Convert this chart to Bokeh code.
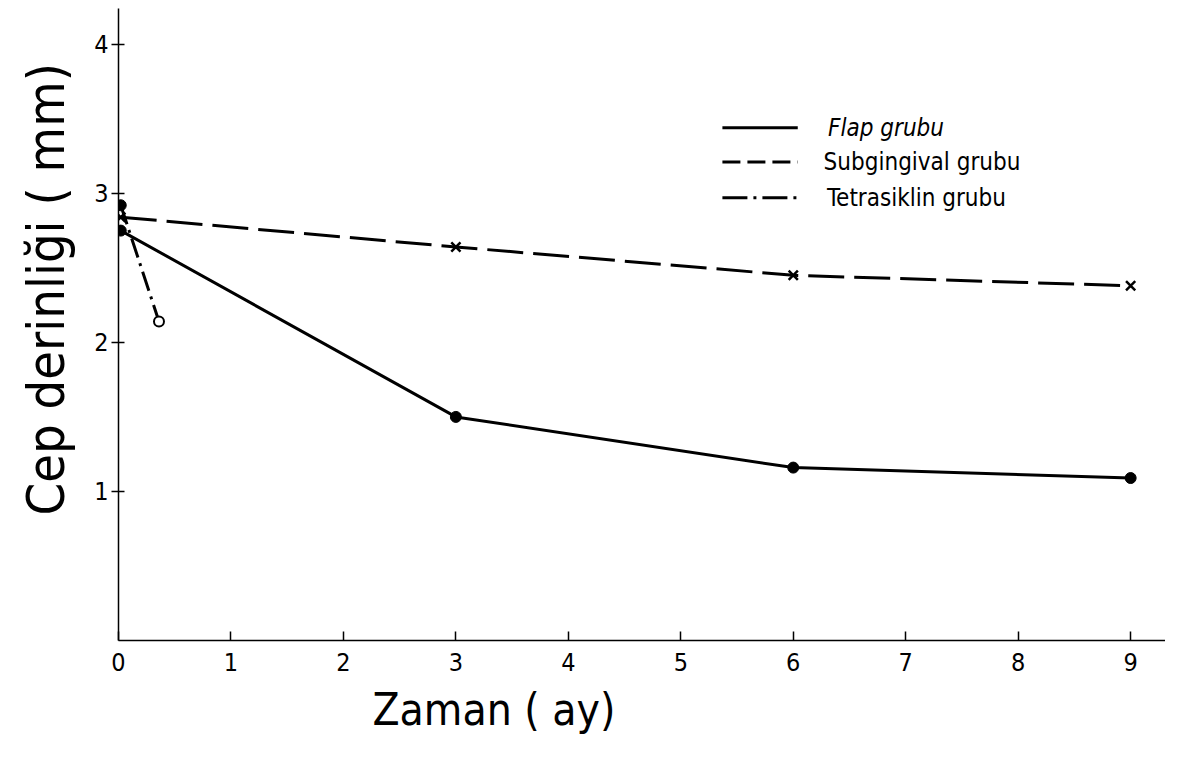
from bokeh.plotting import figure
from bokeh.models import Range1d, FixedTicker, Title
from bokeh.core.properties import value
from bokeh.embed import file_html
from bokeh.resources import INLINE

# ---- data ----
months_flap = [0.02, 3, 6, 9]
flap = [2.75, 1.50, 1.16, 1.09]
months_sub = [0.02, 3, 6, 9]
sub = [2.84, 2.64, 2.45, 2.38]
months_tetra = [0.02, 0.36]
tetra = [2.92, 2.14]

x_ticks = [0, 1, 2, 3, 4, 5, 6, 7, 8, 9]
y_ticks = [1, 2, 3, 4]
legend_names = ["Flap grubu", "Subgingival grubu", "Tetrasiklin grubu"]
legend_y = [3.44, 3.21, 2.97]
x_title = "Zaman ( ay)"
y_title = "Cep derinliği ( mm)"

FONT = "DejaVu Sans Condensed"

p = figure(width=1165, height=742, output_backend="svg", toolbar_location=None,
           x_range=Range1d(0, 9.31), y_range=Range1d(0, 4.24),
           min_border_left=118, min_border_right=0, min_border_top=8, min_border_bottom=102)
p.outline_line_color = None
p.grid.visible = False
p.background_fill_color = "white"

for ax in (p.xaxis[0], p.yaxis[0]):
    ax.axis_line_color = "black"
    ax.axis_line_width = 1.5
    ax.major_tick_line_color = "black"
    ax.major_tick_line_width = 1.5
    ax.minor_tick_line_color = None
    ax.major_label_text_font = FONT
    ax.major_label_text_color = "black"

p.xaxis.ticker = FixedTicker(ticks=x_ticks)
p.xaxis.major_tick_in = 9
p.xaxis.major_tick_out = 0
p.xaxis.major_label_standoff = 12
p.xaxis.major_label_text_font_size = "25px"

p.yaxis.ticker = FixedTicker(ticks=y_ticks)
p.yaxis.major_tick_in = 6
p.yaxis.major_tick_out = 7
p.yaxis.major_label_standoff = 3
p.yaxis.major_label_text_font_size = "25px"

# axis titles placed as the reference has them
p.add_layout(Title(text=x_title, align="left", offset=254, standoff=16,
                   text_font=FONT, text_font_size="44px", text_font_style="normal",
                   text_color="black"), "below")
p.add_layout(Title(text=y_title, align="left", offset=125, standoff=28,
                   vertical_align="top",
                   text_font=FONT, text_font_size="52px", text_font_style="normal",
                   text_color="black"), "left")

# series
p.line(months_flap, flap, line_color="black", line_width=3)
p.scatter(months_flap, flap, marker="circle", size=11, fill_color="black", line_color="black")

p.line(months_sub, sub, line_color="black", line_width=3, line_dash="36 10")
p.scatter(months_sub, sub, marker="x", size=13, line_color="black", line_width=2.5)

p.line(months_tetra, tetra, line_color="black", line_width=3, line_dash="20 6 3 6")
p.scatter(months_tetra[:1], tetra[:1], marker="circle", size=11, fill_color="black", line_color="black")
p.scatter(months_tetra[1:], tetra[1:], marker="circle", size=10, fill_color="white",
          line_color="black", line_width=2)

# legend drawn manually
lx0, lx1 = 5.37, 6.04
dashes = ["solid", "18 7", "25 6 3 6"]
for yy, dsh in zip(legend_y, dashes):
    p.line([lx0, lx1], [yy, yy], line_color="black", line_width=3, line_dash=dsh)
styles = ["italic", "normal", "normal"]
lx_text = [6.31, 6.27, 6.30]
for xx, yy, t, st in zip(lx_text, legend_y, legend_names, styles):
    p.text(x=[xx], y=[yy], text=[t],
           text_font=value(FONT), text_font_size="24px", text_baseline="middle",
           text_align="left", text_color="black", text_font_style=st)

open("out.html", "w").write(file_html(p, INLINE))
